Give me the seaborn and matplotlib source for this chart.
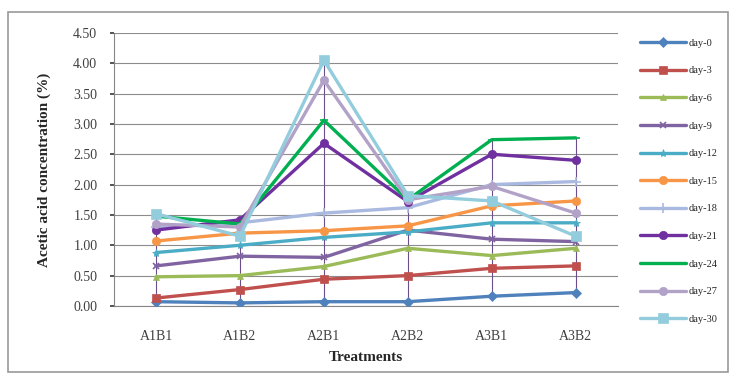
import matplotlib
matplotlib.use("Agg")
import matplotlib.pyplot as plt
from matplotlib.patches import Rectangle
import seaborn as sns
import pandas as pd

# Treatments on the x axis
treatments = ["A1B1", "A1B2", "A2B1", "A2B2", "A3B1", "A3B2"]

# Acetic acid concentration (%) per sampling day
day_0 = [0.07, 0.05, 0.07, 0.07, 0.16, 0.22]
day_3 = [0.13, 0.27, 0.44, 0.50, 0.62, 0.66]
day_6 = [0.48, 0.50, 0.65, 0.95, 0.83, 0.95]
day_9 = [0.66, 0.82, 0.80, 1.25, 1.10, 1.06]
day_12 = [0.88, 1.00, 1.13, 1.22, 1.37, 1.37]
day_15 = [1.07, 1.20, 1.24, 1.32, 1.65, 1.73]
day_18 = [1.30, 1.37, 1.53, 1.62, 2.00, 2.05]
day_21 = [1.25, 1.42, 2.68, 1.72, 2.50, 2.40]
day_24 = [1.48, 1.35, 3.06, 1.75, 2.74, 2.77]
day_27 = [1.35, 1.30, 3.72, 1.75, 1.97, 1.53]
day_30 = [1.52, 1.15, 4.05, 1.82, 1.73, 1.15]

series_names = ["day-0", "day-3", "day-6", "day-9", "day-12", "day-15",
                "day-18", "day-21", "day-24", "day-27", "day-30"]
series_values = [day_0, day_3, day_6, day_9, day_12, day_15,
                 day_18, day_21, day_24, day_27, day_30]

colors = ["#4F81BD", "#C0504D", "#9BBB59", "#8064A2", "#4BACC6", "#F79646",
          "#A9B9E0", "#7030A0", "#00B050", "#B2A2C7", "#93CDDD"]
markers = ["D", "s", "^", "x", "*", "o", "+", "o", "_", "o", "s"]
msizes = [5, 6, 5, 5, 6, 6, 7, 6, 6, 6, 7]

rows = []
for name, vals in zip(series_names, series_values):
    for t, v in zip(treatments, vals):
        rows.append({"Treatment": t, "day": name, "value": v})
df = pd.DataFrame(rows)

sns.set_theme(style="white")
plt.rcParams["font.family"] = ["Liberation Serif", "DejaVu Serif"]

fig = plt.figure(figsize=(7.31, 3.74), dpi=100)
ax = fig.add_axes([0.156, 0.182, 0.689, 0.730])

# High-low lines joining the extreme values of each treatment
wide = df.pivot(index="Treatment", columns="day", values="value").loc[treatments]
ax.vlines(range(len(treatments)), wide.min(axis=1), wide.max(axis=1),
          color="#6a4f8a", lw=0.8, zorder=1)

for name, col, mk, ms in zip(series_names, colors, markers, msizes):
    sub = df[df["day"] == name]
    sns.lineplot(data=sub, x="Treatment", y="value", ax=ax, color=col,
                 marker=mk, markersize=ms, markeredgecolor=col,
                 markeredgewidth=1.2 if mk in ("x", "+", "_") else 0.5,
                 lw=2.4, label=name, sort=False, zorder=3)

ax.set_xlim(-0.5, len(treatments) - 0.5)
ax.set_ylim(0, 4.5)
ax.set_yticks([i * 0.5 for i in range(10)])
ax.set_yticklabels([f"{i * 0.5:.2f}" for i in range(10)])
ax.yaxis.grid(True, color="#8c8c8c", lw=0.8)
ax.set_axisbelow(True)
for s in ["top", "right"]:
    ax.spines[s].set_visible(False)
for s in ["left", "bottom"]:
    ax.spines[s].set_color("#868686")
    ax.spines[s].set_linewidth(0.8)
ax.tick_params(axis="both", labelsize=10, colors="#404040", length=3,
               left=True, bottom=False)
ax.tick_params(axis="y", pad=9)
ax.tick_params(axis="x", pad=14)
ax.set_xlabel("Treatments", fontsize=11, fontweight="bold", labelpad=6)
ax.set_ylabel("Acetic acid concentration (%)", fontsize=11, fontweight="bold",
              labelpad=16)

leg = ax.legend(loc="upper left", bbox_to_anchor=(1.036, 0.995), frameon=False,
                fontsize=7.5, handlelength=4.4, labelspacing=1.76,
                handletextpad=0.3, borderaxespad=0)

# Chart frame
fig.patches.append(Rectangle((0.011, 0.005), 0.985, 0.963, transform=fig.transFigure,
                             fill=False, edgecolor="#9a9a9a", lw=1.2))

fig.savefig("out.png", dpi=100)
